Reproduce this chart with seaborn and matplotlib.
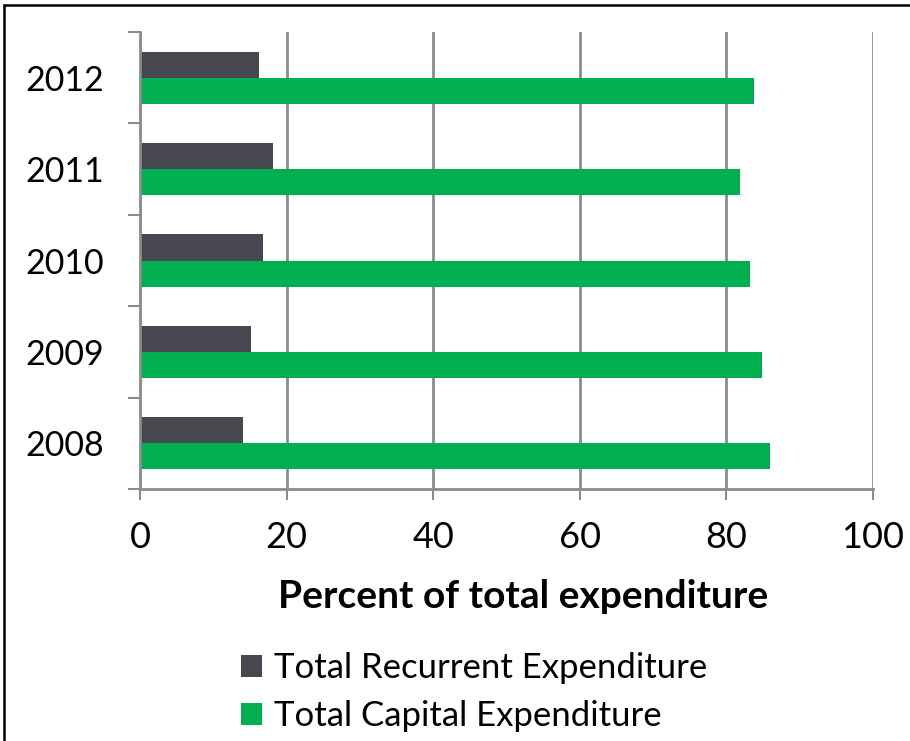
import matplotlib
matplotlib.use("Agg")
import matplotlib.pyplot as plt
from matplotlib.lines import Line2D
from matplotlib.patches import Patch
import seaborn as sns
import pandas as pd
import numpy as np

years = ["2012", "2011", "2010", "2009", "2008"]
recurrent = [16.2, 18.1, 16.8, 15.1, 14.0]
capital = [83.8, 81.9, 83.2, 84.9, 86.0]
series_names = ["Total Recurrent Expenditure", "Total Capital Expenditure"]
x_ticks = [0, 20, 40, 60, 80, 100]
colors = ["#474750", "#00AF50"]

df = pd.DataFrame({
    "Year": years * 2,
    "Value": recurrent + capital,
    "Series": [series_names[0]] * len(years) + [series_names[1]] * len(years),
})

sns.set_style("white")
plt.rcParams["font.family"] = ["Lato", "DejaVu Sans"]
plt.rcParams["text.color"] = "black"

W, H = 910, 741
fig = plt.figure(figsize=(W / 100, H / 100), dpi=100)
ax = fig.add_axes([140 / W, 1 - 489 / H, (873 - 140) / W, (489 - 32) / H])

sns.barplot(data=df, x="Value", y="Year", hue="Series", order=years,
            hue_order=series_names, palette=colors, orient="h", width=0.57,
            linewidth=0, saturation=1, ax=ax, legend=False)

ax.set_xlim(0, 100)
ax.set_ylim(4.5, -0.5)
ax.set_xticks(x_ticks)
ax.set_xticklabels([str(t) for t in x_ticks])
ax.set_yticks(range(len(years)))
ax.set_yticklabels(years)
ax.set_yticks(np.arange(-0.5, len(years), 1.0), minor=True)
ax.set_xlabel("")
ax.set_ylabel("")

grid_c = "#8c8c8c"
ax.grid(axis="x", color=grid_c, linewidth=2)
ax.set_axisbelow(True)
for s in ["top", "right"]:
    ax.spines[s].set_visible(False)
for s in ["left", "bottom"]:
    ax.spines[s].set_color(grid_c)
    ax.spines[s].set_linewidth(2)

ax.tick_params(axis="y", which="major", length=0, pad=26, labelsize=24.5, colors="black")
ax.tick_params(axis="y", which="minor", length=8.6, width=1.5, color=grid_c, direction="out", left=True)
ax.tick_params(axis="x", which="major", length=8, width=1.5, color=grid_c, direction="out",
               pad=15, labelsize=26, labelcolor="black", bottom=True)

fig.text(523 / W, 1 - 596 / H, "Percent of total expenditure", ha="center", va="center",
         fontsize=28, fontweight="bold", color="black")

handles = [Patch(facecolor=c, edgecolor="none") for c in colors]
fig.legend(handles, series_names, loc="upper left", bbox_to_anchor=(241 / W, 1 - 652 / H),
           frameon=False, fontsize=25, handlelength=0.6, handleheight=0.6,
           handletextpad=0.35, labelspacing=0.46, borderaxespad=0, borderpad=0,
           labelcolor="black")

# figure border (left and top)
fig.add_artist(Line2D([4 / W, 4 / W], [0, 1 - 5 / H], color="black", linewidth=1.8,
                      transform=fig.transFigure))
fig.add_artist(Line2D([4 / W, 1], [1 - 5 / H, 1 - 5 / H], color="black", linewidth=1.8,
                      transform=fig.transFigure))

fig.savefig("out.png", dpi=100)
